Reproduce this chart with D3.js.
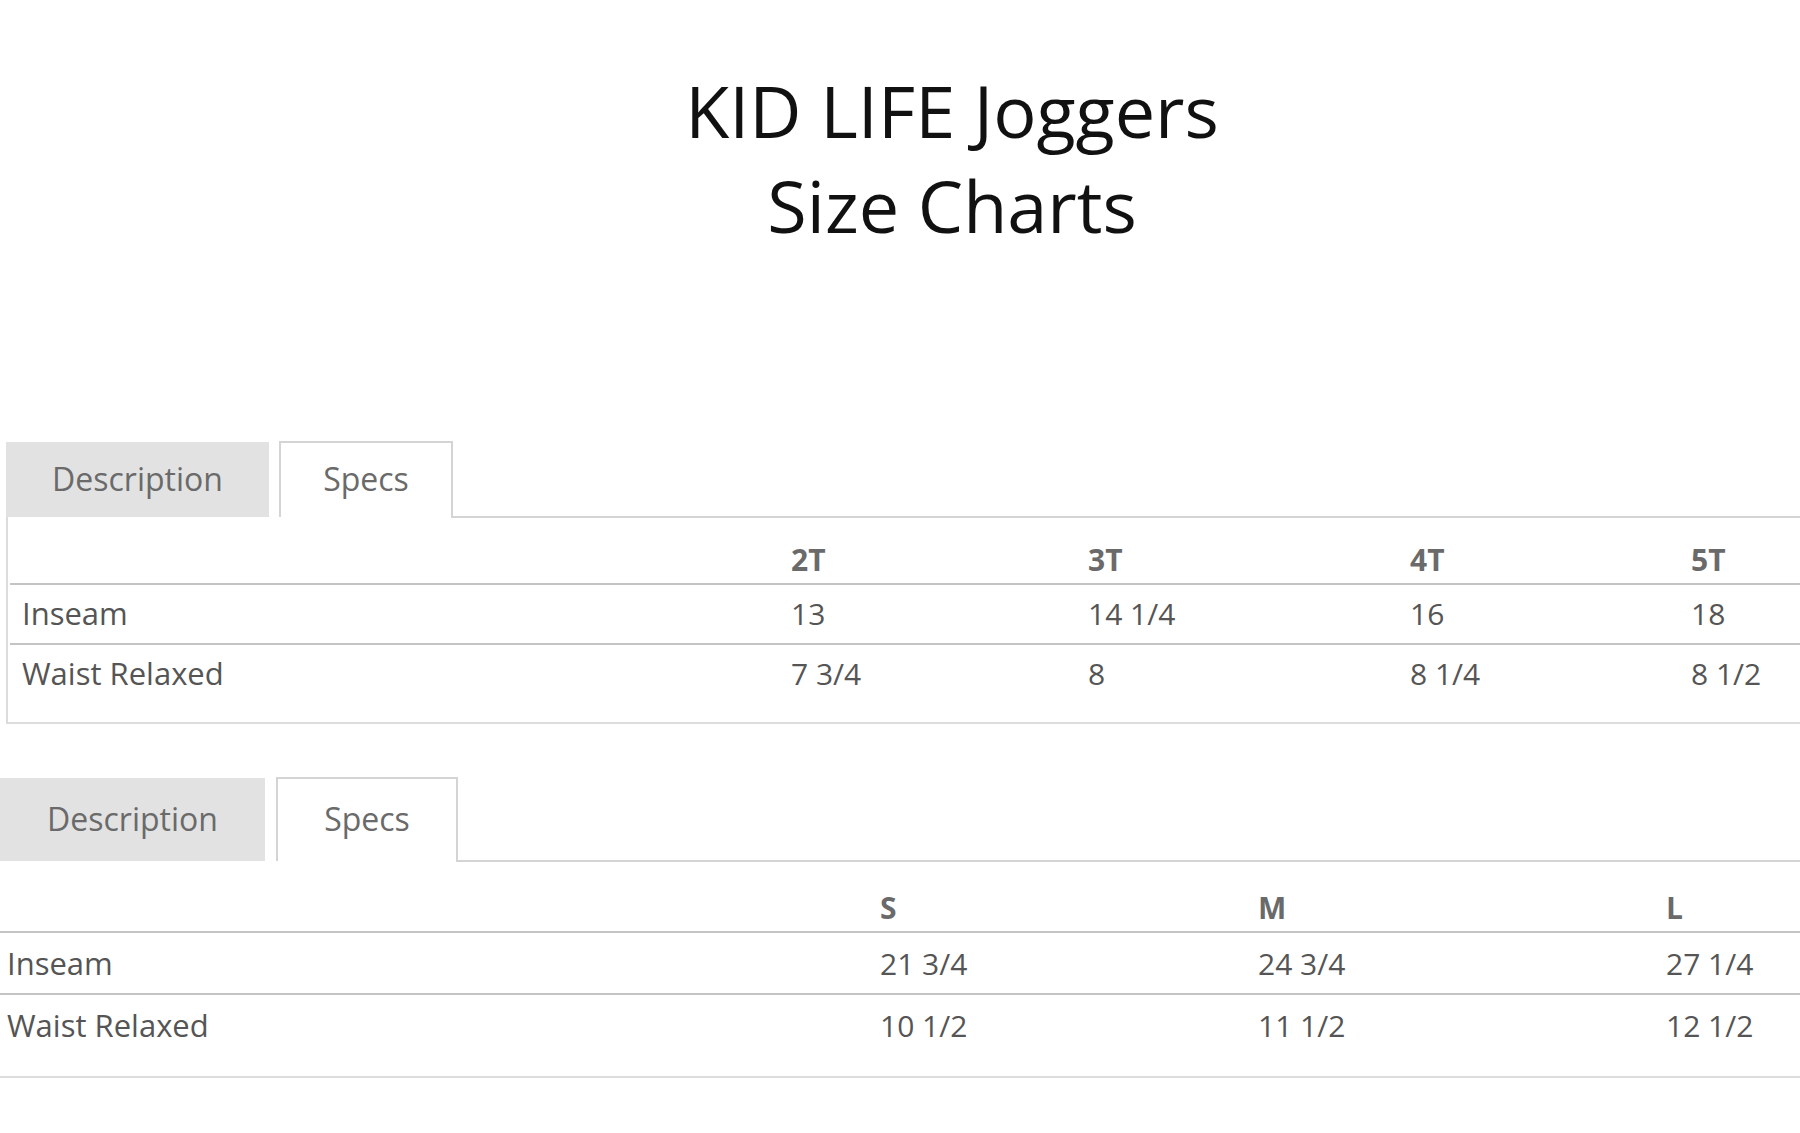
<!DOCTYPE html>
<html><head><meta charset="utf-8">
<script src="https://cdn.jsdelivr.net/npm/d3@7"></script>
<style>body{margin:0;background:#fff}</style></head>
<body><svg id="c" width="1800" height="1133"></svg>
<script>
const titleLines = ["KID LIFE Joggers", "Size Charts"];
const rowLabels = ["Inseam", "Waist Relaxed"];
const sizesToddler = ["2T", "3T", "4T", "5T"];
const inseamToddler = ["13", "14 1/4", "16", "18"];
const waistToddler = ["7 3/4", "8", "8 1/4", "8 1/2"];
const sizesYouth = ["S", "M", "L"];
const inseamYouth = ["21 3/4", "24 3/4", "27 1/4"];
const waistYouth = ["10 1/2", "11 1/2", "12 1/2"];

const svg = d3.select("#c");
const F = "'Open Sans', Lato, sans-serif";
svg.selectAll("text.title").data(titleLines).join("text")
  .attr("x", 952).attr("y", (d, i) => 138 + i * 95)
  .attr("text-anchor", "middle").attr("font-family", F).attr("font-size", 72)
  .attr("fill", "#111").text(d => d);

function table(o) {
  const g = svg.append("g");
  // tabs
  g.append("rect").attr("x", o.d0).attr("y", o.tTop).attr("width", o.d1 - o.d0).attr("height", o.tBot - o.tTop).attr("fill", "#e2e2e2");
  g.append("path").attr("d", `M${o.s0},${o.tBot}V${o.tTop}H${o.s1}V${o.tBot}H1800`).attr("fill", "none").attr("stroke", "#d4d4d4").attr("stroke-width", 2);
  g.append("text").attr("x", (o.d0 + o.d1) / 2).attr("y", (o.tTop + o.tBot) / 2 + 11).attr("text-anchor", "middle")
    .attr("font-family", F).attr("font-size", 32).attr("fill", "#6a6a6a").text("Description");
  g.append("text").attr("x", (o.s0 + o.s1) / 2).attr("y", (o.tTop + o.tBot) / 2 + 11).attr("text-anchor", "middle")
    .attr("font-family", F).attr("font-size", 32).attr("fill", "#6a6a6a").text("Specs");
  if (o.box) g.append("path").attr("d", `M${o.box},${o.tBot}V${o.bottom}H1800`).attr("fill", "none").attr("stroke", "#dcdcdc").attr("stroke-width", 2);
  else g.append("line").attr("x1", 0).attr("x2", 1800).attr("y1", o.bottom).attr("y2", o.bottom).attr("stroke", "#dcdcdc").attr("stroke-width", 2);
  const x = d3.scaleOrdinal().domain(o.sizes).range(o.cols);
  [o.l1, o.l2].forEach(y => g.append("line").attr("x1", o.lx0).attr("x2", 1800).attr("y1", y).attr("y2", y).attr("stroke", "#c4c4c4").attr("stroke-width", 2));
  g.selectAll("text.h").data(o.sizes).join("text").attr("x", d => x(d)).attr("y", o.hy)
    .attr("font-family", F).attr("font-weight", "bold").attr("font-size", 30).attr("fill", "#6a6a6a").text(d => d);
  [o.inseam, o.waist].forEach((vals, r) => {
    const y = o.ry[r];
    g.append("text").attr("x", o.lx).attr("y", y).attr("font-family", F).attr("font-size", 31).attr("fill", "#555").text(rowLabels[r]);
    g.selectAll(null).data(vals).join("text").attr("x", (d, i) => x(o.sizes[i])).attr("y", y)
      .attr("font-family", F).attr("font-size", 30).attr("fill", "#555").text(d => d);
  });
}
table({tTop: 442, tBot: 517, d0: 6, d1: 269, s0: 280, s1: 452, box: 7, bottom: 723, lx0: 10,
  sizes: sizesToddler, cols: [791, 1088, 1410, 1691], inseam: inseamToddler, waist: waistToddler,
  hy: 571, l1: 584, l2: 644, ry: [625, 685], lx: 22});
table({tTop: 778, tBot: 861, d0: 0, d1: 265, s0: 277, s1: 457, box: 0, bottom: 1077, lx0: 0,
  sizes: sizesYouth, cols: [880, 1258, 1666], inseam: inseamYouth, waist: waistYouth,
  hy: 919, l1: 932, l2: 994, ry: [975, 1037], lx: 7});
</script></body></html>
